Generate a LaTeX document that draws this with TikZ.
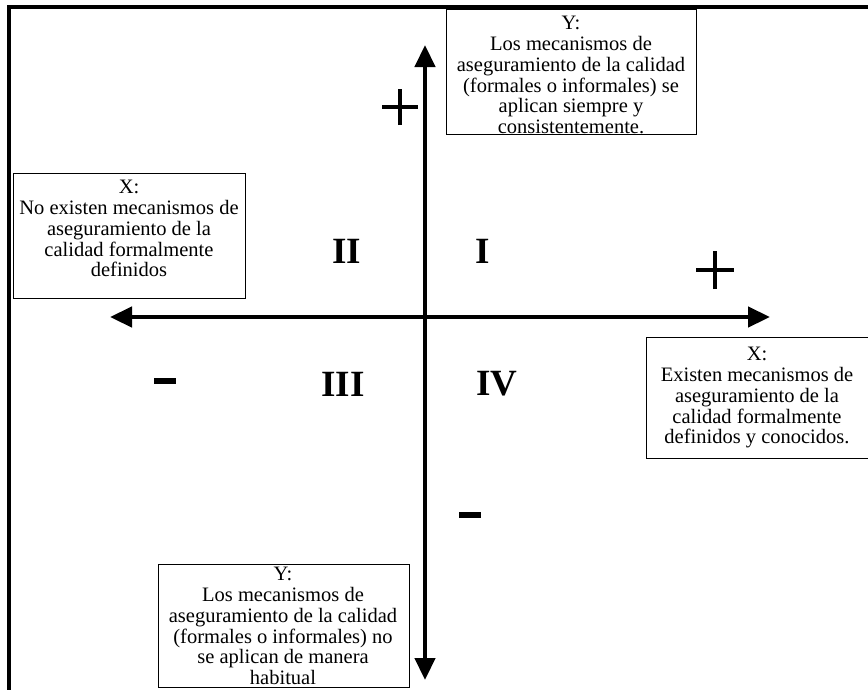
\documentclass[tikz,border=0pt]{standalone}
\usepackage{fontspec}
\setmainfont{Liberation Serif}
\usetikzlibrary{arrows.meta}
\begin{document}
\begin{tikzpicture}[x=1pt,y=-1pt,
  lbl/.style={align=center, font=\fontsize{20.5}{20.8}\selectfont, inner sep=0pt, anchor=north},
  boxr/.style={draw, line width=1pt, inner sep=0pt, anchor=north west},
  ax/.style={line width=4.5pt, {Triangle[length=22pt,width=20pt]}-{Triangle[length=22pt,width=20pt]}},
  rom/.style={font=\fontsize{37}{40}\selectfont\bfseries, inner sep=0pt},
  signp/.style={line width=3.5pt},
  signm/.style={line width=6pt}]
\useasboundingbox (0,0) rectangle (868,689);
\clip (0,0) rectangle (868,689);
% frame
\draw[line width=4pt] (9,7) -- (870,7);
\draw[line width=3.5pt] (9,5) -- (9,692);
% boxes
\node[boxr, minimum width=250pt, minimum height=125pt] (ybox) at (446,9) {};
\node[boxr, minimum width=232pt, minimum height=125pt] (xlbox) at (13,173) {};
\node[boxr, minimum width=226pt, minimum height=121pt] (xrbox) at (646,337) {};
\node[boxr, minimum width=251pt, minimum height=123pt] (ybbox) at (158,564) {};
% texts
\node[lbl] (yt) at (571,16) {Y:\\Los mecanismos de\\aseguramiento de la calidad\\(formales o informales) se\\aplican siempre y\\consistentemente.};
\node[lbl] (xlt) at (129,180) {X:\\No existen mecanismos de\\aseguramiento de la\\calidad formalmente\\definidos};
\node[lbl] (xrt) at (757,347) {X:\\Existen mecanismos de\\aseguramiento de la\\calidad formalmente\\definidos y conocidos.};
\node[lbl] (ybt) at (283,567) {Y:\\Los mecanismos de\\aseguramiento de la calidad\\(formales o informales) no\\se aplican de manera\\habitual};
% axes
\coordinate (xl) at (110,317);
\coordinate (xr) at (770,317);
\coordinate (yu) at (425,45);
\coordinate (yd) at (425,680);
\draw[ax] (xl) -- (xr);
\draw[ax] (yd) -- (yu);
% quadrants
\node[rom] (q2) at (347,251) {II};
\node[rom] (q1) at (483,251) {I};
\node[rom] (q3) at (343,384) {III};
\node[rom] (q4) at (497,384) {IV};
% signs
\coordinate (p1) at (400,107);
\coordinate (p2) at (715,270);
\draw[signp] ([xshift=-18pt]p1) -- ([xshift=18pt]p1);
\draw[signp] ([yshift=-18pt]p1) -- ([yshift=18pt]p1);
\draw[signp] ([xshift=-19pt]p2) -- ([xshift=19pt]p2);
\draw[signp] ([yshift=-19pt]p2) -- ([yshift=19pt]p2);
\coordinate (m1) at (165,381);
\coordinate (m2) at (470,515);
\draw[signm] ([xshift=-11pt]m1) -- ([xshift=11pt]m1);
\draw[signm] ([xshift=-11pt]m2) -- ([xshift=11pt]m2);
\end{tikzpicture}
\end{document}
